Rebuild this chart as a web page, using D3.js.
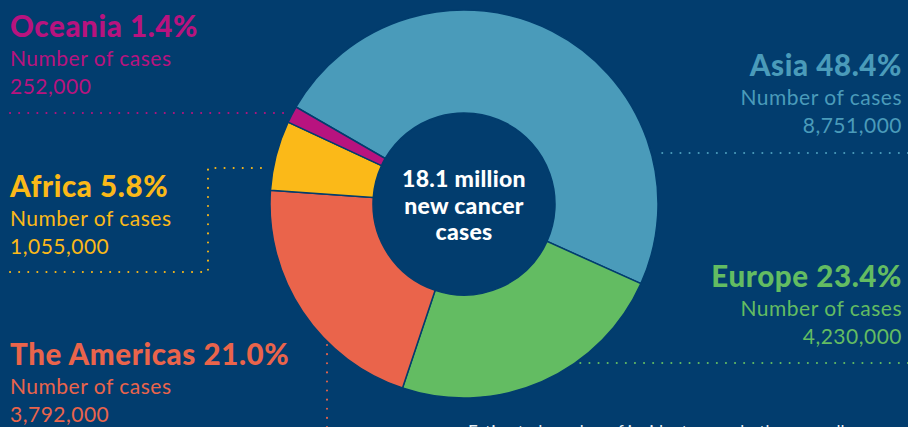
<!DOCTYPE html>
<html>
<head>
<meta charset="utf-8">
<script src="https://cdn.jsdelivr.net/npm/d3@7"></script>
<style>
  html, body { margin: 0; padding: 0; background: #023d6e; overflow: hidden; }
  text { font-family: Lato, "Open Sans", sans-serif; }
</style>
</head>
<body>
<div id="canvas"></div>
<script>
// data
const regions = ["Asia", "Europe", "The Americas", "Africa", "Oceania"];
const percents = [48.4, 23.4, 21.0, 5.8, 1.4];
const cases = ["8,751,000", "4,230,000", "3,792,000", "1,055,000", "252,000"];
const colors = ["#4a9bba", "#63bc62", "#ea644b", "#fbb918", "#b8137f"];
const centerLines = ["18.1 million", "new cancer", "cases"];

const width = 908;
const height = 427;
const bg = "#023d6e";

const svg = d3.select("#canvas").append("svg")
  .attr("width", width)
  .attr("height", height);

svg.append("rect").attr("width", width).attr("height", height).attr("fill", bg);

const cx = 464, cy = 204;
const outerR = 194, innerR = 91;

const pie = d3.pie().sort(null).value(d => d)
  .startAngle(-60 * Math.PI / 180)
  .endAngle(300 * Math.PI / 180);
const arc = d3.arc().innerRadius(innerR).outerRadius(outerR);

const g = svg.append("g").attr("transform", `translate(${cx},${cy})`);
g.selectAll("path")
  .data(pie(percents))
  .enter()
  .append("path")
  .attr("d", arc)
  .attr("fill", (d, i) => colors[i])
  .attr("stroke", bg)
  .attr("stroke-width", 1.5);

// center label
g.selectAll("text.center")
  .data(centerLines)
  .enter()
  .append("text")
  .attr("class", "center")
  .attr("text-anchor", "middle")
  .attr("y", (d, i) => -17 + i * 26.5)
  .attr("fill", "#fff")
  .attr("font-weight", 900)
  .attr("font-size", 23)
  .attr("letter-spacing", 0.3)
  .text(d => d);

// leader lines (dotted)
const dotted = (pts, color) => {
  svg.append("path")
    .attr("d", d3.line()(pts))
    .attr("fill", "none")
    .attr("stroke", color)
    .attr("stroke-width", 2)
    .attr("stroke-linecap", "round")
    .attr("stroke-dasharray", "0.1 9");
};
dotted([[908, 153], [660, 153]], colors[0]);
dotted([[908, 363], [578, 363]], colors[1]);
dotted([[327, 427], [327, 345]], colors[2]);
dotted([[10, 272], [208, 272], [208, 168], [268, 168]], colors[3]);
dotted([[10, 113], [290, 113]], colors[4]);

// label blocks
const labels = [
  { i: 0, x: 902, y: 76, anchor: "end" },
  { i: 1, x: 902, y: 287, anchor: "end" },
  { i: 2, x: 10, y: 365, anchor: "start" },
  { i: 3, x: 10, y: 197, anchor: "start" },
  { i: 4, x: 10, y: 37, anchor: "start" }
];
labels.forEach(l => {
  const t = svg.append("text")
    .attr("x", l.x).attr("y", l.y)
    .attr("text-anchor", l.anchor)
    .attr("fill", colors[l.i]);
  t.append("tspan").attr("x", l.x).attr("font-weight", 900).attr("font-size", 29.5)
    .attr("letter-spacing", 0.6)
    .text(`${regions[l.i]} ${percents[l.i].toFixed(1)}%`);
  t.append("tspan").attr("x", l.x).attr("dy", 29).attr("font-size", 21)
    .attr("letter-spacing", 0.5)
    .text("Number of cases");
  t.append("tspan").attr("x", l.x).attr("dy", 28).attr("font-size", 21)
    .attr("letter-spacing", 0.5)
    .text(cases[l.i]);
});

// cut-off note at the bottom, as in the source
svg.append("text")
  .attr("x", 468).attr("y", 438)
  .attr("fill", "#e8eef3")
  .attr("font-size", 17)
  .text("Estimated number of incident cases, both sexes, all ages");
</script>
</body>
</html>
